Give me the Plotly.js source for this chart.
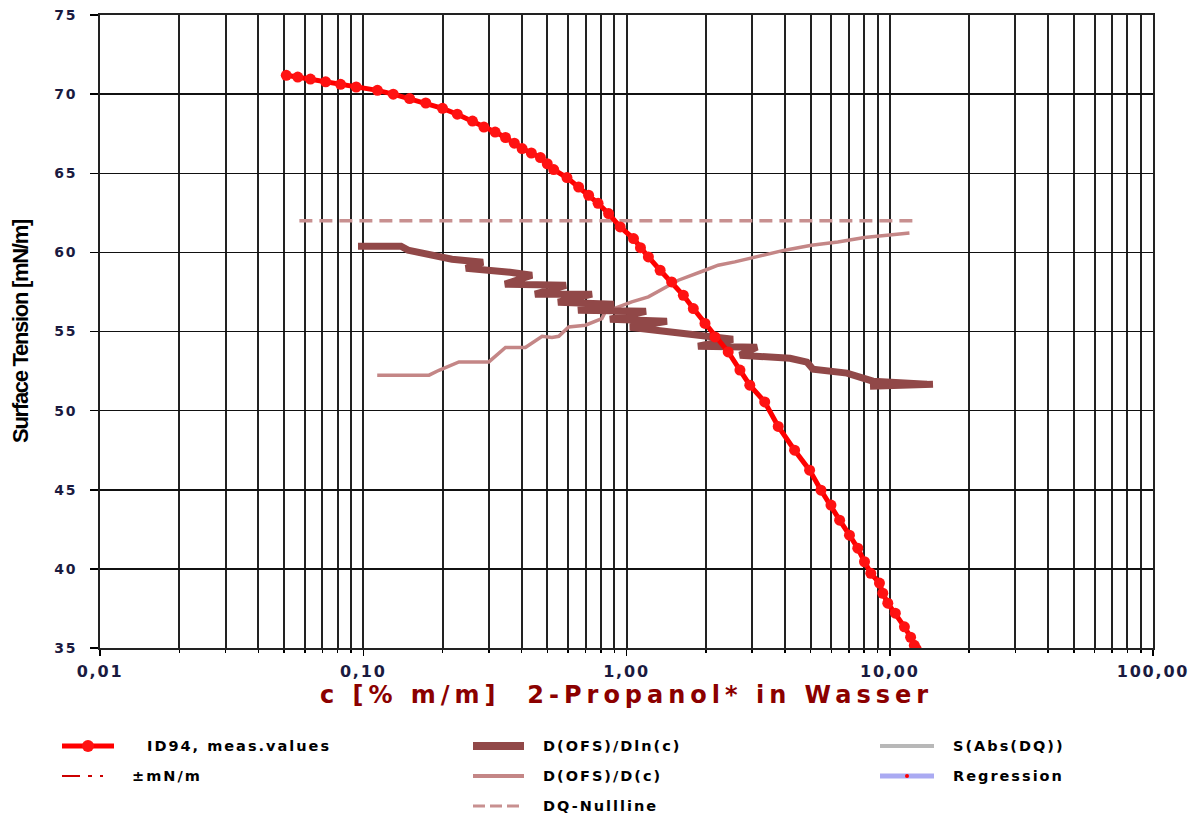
<!DOCTYPE html>
<html>
<head>
<meta charset="utf-8">
<script src="https://cdn.plot.ly/plotly-3.0.1.min.js"></script>
<style>
html,body{margin:0;padding:0;background:#fff;}
#chart{width:1195px;height:814px;}
#chart .xtick text{letter-spacing:1.8px;}
#chart .ytick text{letter-spacing:1.7px;}
#chart text.xtitle{letter-spacing:5px;}
#chart text.ytitle{letter-spacing:-1.3px;}
#chart .annotation-text{letter-spacing:2px;}
</style>
</head>
<body>
<div id="chart"></div>
<script>
// ---- data ----
const measX = [0.051,0.0564,0.063,0.072,0.082,0.094,0.1132,0.13,0.15,0.1728,0.2,0.2276,0.26,0.2873,0.317,0.347,0.375,0.4012,0.435,0.471,0.50,0.529,0.594,0.658,0.718,0.78,0.855,0.9464,1.063,1.13,1.211,1.342,1.484,1.644,1.794,1.987,2.168,2.434,2.697,2.94,3.35,3.77,4.35,4.96,5.48,5.98,6.45,7.03,7.56,8.02,8.47,9.14,9.41,9.83,10.5,11.37,12.0,12.4,12.6];
const measY = [71.19,71.08,70.95,70.78,70.62,70.45,70.24,70.0,69.72,69.44,69.1,68.73,68.3,67.92,67.6,67.26,66.9,66.56,66.28,65.99,65.6,65.23,64.73,64.13,63.61,63.1,62.45,61.61,60.87,60.3,59.71,58.87,58.13,57.29,56.45,55.51,54.66,53.71,52.56,51.61,50.55,49.0,47.5,46.24,44.97,44.03,43.08,42.13,41.31,40.45,39.72,39.1,38.46,37.83,37.2,36.34,35.68,35.17,34.95];

const dlnX = [0.0955,0.1391,0.1479,0.1957,0.2173,0.2850,0.2456,0.3609,0.4375,0.3455,0.4692,0.5891,0.4491,0.7396,0.5493,0.8964,0.6543,1.186,0.8655,1.425,1.031,1.743,2.539,1.869,3.131,2.698,4.180,4.850,5.110,6.879,8.638,13.85,8.414,14.60];
const dlnY = [60.39,60.39,60.14,59.76,59.57,59.38,59.0,58.75,58.56,57.99,57.99,57.92,57.36,57.36,56.85,56.72,56.35,56.28,55.78,55.65,55.27,54.89,54.51,54.07,54.01,53.5,53.31,53.06,52.62,52.37,51.86,51.67,51.54,51.67];

const dcX = [0.1130,0.1778,0.194,0.231,0.300,0.347,0.413,0.478,0.521,0.553,0.603,0.698,0.806,0.830,0.933,1.047,1.211,1.574,1.987,2.23,2.58,3.35,3.99,5.04,6.35,8.02,10.12,11.88];
const dcY = [52.24,52.24,52.55,53.08,53.08,53.99,53.99,54.70,54.62,54.70,55.29,55.40,55.82,56.24,56.55,56.87,57.19,58.24,58.87,59.19,59.40,59.82,60.14,60.45,60.66,60.94,61.08,61.23];

const nullX = [0.0572,12.65];
const nullY = [62.0,62.0];

const xTickVals = [0.01,0.1,1,10,100];
const xTickText = ['0,01','0,10','1,00','10,00','100,00'];
const xMinorVals = [0.02,0.03,0.04,0.05,0.06,0.07,0.08,0.09,0.2,0.3,0.4,0.5,0.6,0.7,0.8,0.9,2,3,4,5,6,7,8,9,20,30,40,50,60,70,80,90];

const legendNames = ['ID94, meas.values','\u00b1mN/m','D(OFS)/Dln(c)','D(OFS)/D(c)','DQ-Nullline','S(Abs(DQ))','Regression'];

// ---- traces ----
const traces = [
  {x: nullX, y: nullY, mode:'lines', name: legendNames[4],
   line:{color:'#C89090', width:3.5, dash:'13px,7px'}},
  {x: dcX, y: dcY, mode:'lines', name: legendNames[3],
   line:{color:'#C48686', width:3.5}},
  {x: dlnX, y: dlnY, mode:'lines', name: legendNames[2],
   line:{color:'#914848', width:7}},
  {x: measX, y: measY, mode:'lines+markers', name: legendNames[0],
   line:{color:'#FF0000', width:5},
   marker:{color:'#FF1212', size:11, symbol:'circle', line:{color:'#F00000', width:0}}}
];

// ---- manual legend (pixel -> paper) ----
const L = 100, R = 1153, T = 15, B = 648;
const LS = 2; // legend letter spacing (px), see CSS
const px = v => (v - L) / (R - L);
const py = v => (B - v) / (B - T);
const shapes = [];
const annotations = [];
function legLine(x0, x1, y, color, width, dash){
  shapes.push({type:'line', xref:'paper', yref:'paper', x0:px(x0), x1:px(x1), y0:py(y), y1:py(y),
    line:{color:color, width:width, dash:dash||'solid'}});
}
function legDot(x, y, r, color){
  shapes.push({type:'circle', xref:'paper', yref:'paper', xsizemode:'pixel', ysizemode:'pixel',
    xanchor:px(x), yanchor:py(y), x0:-r, x1:r, y0:-r, y1:r, fillcolor:color, line:{width:0}});
}
function legText(x, y, t){
  const shift = t.length * LS / 2;
  annotations.push({xref:'paper', yref:'paper', x:px(x + shift), y:py(y), text:t, showarrow:false,
    xanchor:'left', yanchor:'middle',
    font:{family:'DejaVu Sans, Verdana, sans-serif', size:14.5, color:'#000', weight:'bold'}});
}
const r1 = 746, r2 = 776, r3 = 806;
// column 1
legLine(62, 114, r1, '#FF0000', 5); legDot(88, r1, 6, '#FF1212');
legText(145, r1, legendNames[0]);
legLine(62, 103, r2, '#CC0000', 2, '18px,8px,4px,8px,4px');
legText(130, r2, legendNames[1]);
// column 2
legLine(473, 524, r1, '#914848', 8);
legText(541, r1, legendNames[2]);
legLine(473, 524, r2, '#C48686', 4);
legText(541, r2, legendNames[3]);
legLine(473, 524, r3, '#C89090', 3, '12px,5px');
legText(541, r3, legendNames[4]);
// column 3
legLine(880, 934, r1, '#B8B8B8', 4);
legText(951, r1, legendNames[5]);
legLine(880, 934, r2, '#AAAAF2', 5); legDot(907, r2, 2, '#FF0000');
legText(951, r2, legendNames[6]);

const layout = {
  width:1195, height:814,
  margin:{l:L, r:1195-R, t:T, b:814-B},
  paper_bgcolor:'#fff', plot_bgcolor:'#fff',
  showlegend:false,
  xaxis:{
    type:'log', range:[-2,2],
    tickmode:'array', tickvals:xTickVals, ticktext:xTickText,
    ticks:'outside', ticklen:6, tickwidth:1.5, tickcolor:'#000',
    ticklabelstandoff:2,
    showgrid:true, gridcolor:'#222', gridwidth:2,
    showline:true, linecolor:'#222', linewidth:2, mirror:true,
    zeroline:false,
    tickfont:{family:'DejaVu Sans, Verdana, sans-serif', size:16, color:'#1a1a40', weight:'bold'},
    minor:{tickmode:'array', tickvals:xMinorVals, ticks:'outside', ticklen:3, tickwidth:1.5, tickcolor:'#000',
      showgrid:true, gridcolor:'#222', gridwidth:2},
    title:{text:'c [% m/m]&nbsp;&nbsp;2-Propanol* in Wasser', standoff:6,
      font:{family:'DejaVu Sans, Verdana, sans-serif', size:24, color:'#8B0000', weight:'bold'}}
  },
  yaxis:{
    range:[35,75], tickmode:'linear', tick0:35, dtick:5,
    ticks:'outside', ticklen:8, tickwidth:1.5, tickcolor:'#000',
    ticklabelstandoff:10,
    showgrid:true, gridcolor:'#111', gridwidth:1.5,
    showline:true, linecolor:'#222', linewidth:2, mirror:true,
    zeroline:false,
    tickfont:{family:'DejaVu Sans, Verdana, sans-serif', size:14, color:'#1a1a40', weight:'bold'},
    title:{text:'Surface Tension [mN/m]', standoff:23,
      font:{family:'Liberation Sans, Arial, sans-serif', size:22, color:'#000', weight:'bold'}}
  },
  shapes:shapes,
  annotations:annotations
};

Plotly.newPlot('chart', traces, layout, {displayModeBar:false, staticPlot:true});
</script>
</body>
</html>
